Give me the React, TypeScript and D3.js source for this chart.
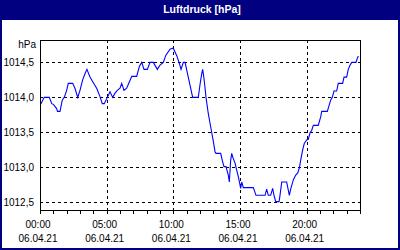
import React from "react";
import * as d3 from "d3";

const title = "Luftdruck [hPa]";
const unitLabel = "hPa";
const dateLabel = "06.04.21";

// time in hours since 00:00, pressure in hPa
const hours = [
  0.05, 0.32, 0.7, 0.88, 1.0, 1.25, 1.31, 1.5, 1.67, 1.82, 2.0, 2.12, 2.45, 2.62, 2.83, 3.0, 3.2, 3.38, 3.52, 3.75,
  4.0, 4.25, 4.5, 4.67, 4.82, 5.05, 5.25, 5.45, 5.63, 5.8, 6.0, 6.13, 6.3, 6.5, 6.7, 6.88, 7.25, 7.45, 7.63, 7.8,
  8.05, 8.25, 8.5, 8.8, 9.0, 9.25, 9.43, 9.75, 9.92, 10.0, 10.25, 10.43, 10.58, 10.75, 10.88, 11.12, 11.45, 11.87, 12.0, 12.13,
  12.2, 12.3, 12.38, 12.45, 12.62, 12.8, 13.0, 13.13, 13.2, 13.55, 13.67, 13.8, 13.95, 14.05, 14.12, 14.2, 14.3, 14.38, 14.45, 14.63,
  14.75, 14.87, 15.0, 15.05, 15.13, 15.25, 16.0, 16.2, 16.88, 17.0, 17.12, 17.3, 17.45, 17.55, 17.68, 17.93, 18.0, 18.13, 18.5, 18.7,
  18.8, 19.0, 19.18, 19.33, 19.45, 19.55, 19.7, 19.82, 20.0, 20.12, 20.25, 20.38, 20.5, 20.87, 21.05, 21.13, 21.55, 21.8, 21.92, 22.05,
  22.25, 22.37, 22.7, 22.8, 23.0, 23.12, 23.25, 23.38, 23.7, 23.8, 23.88,
];
const pressure = [
  1013.9, 1014.0, 1014.0, 1013.91, 1013.9, 1013.84, 1013.8, 1013.8, 1013.96, 1014.0, 1014.1, 1014.2, 1014.2, 1014.13, 1014.0, 1014.1, 1014.25, 1014.34, 1014.4, 1014.29,
  1014.21, 1014.13, 1014.01, 1013.91, 1013.91, 1014.0, 1014.08, 1014.0, 1014.06, 1014.1, 1014.13, 1014.2, 1014.1, 1014.13, 1014.22, 1014.3, 1014.3, 1014.44, 1014.5, 1014.4,
  1014.4, 1014.5, 1014.5, 1014.4, 1014.46, 1014.5, 1014.6, 1014.69, 1014.7, 1014.7, 1014.6, 1014.5, 1014.4, 1014.5, 1014.5, 1014.29, 1014.0, 1014.0, 1014.18, 1014.34,
  1014.4, 1014.27, 1014.13, 1014.0, 1013.77, 1013.58, 1013.37, 1013.22, 1013.2, 1013.2, 1013.1, 1013.01, 1013.01, 1012.94, 1012.89, 1012.79, 1013.1, 1013.2, 1013.15, 1013.06,
  1012.96, 1012.87, 1012.75, 1012.7, 1012.79, 1012.71, 1012.71, 1012.6, 1012.6, 1012.69, 1012.6, 1012.6, 1012.7, 1012.6, 1012.51, 1012.51, 1012.6, 1012.79, 1012.79, 1012.6,
  1012.69, 1012.82, 1012.89, 1012.92, 1012.99, 1013.1, 1013.25, 1013.34, 1013.39, 1013.4, 1013.49, 1013.53, 1013.6, 1013.6, 1013.72, 1013.8, 1013.8, 1013.96, 1014.0, 1014.09,
  1014.09, 1014.2, 1014.2, 1014.29, 1014.29, 1014.4, 1014.46, 1014.5, 1014.5, 1014.56, 1014.59,
];

const yTicks = [1012.5, 1013.0, 1013.5, 1014.0, 1014.5];
const xTickHours = [0, 5, 10, 15, 20];
const xTickLabels = ["00:00", "05:00", "10:00", "15:00", "20:00"];
const gridHours = [5, 10, 15, 20];
const minorHours = d3.range(0, 25);

const W = 400;
const H = 250;
const plot = { left: 40, top: 40, right: 360, bottom: 210 };

export default function App() {
  const x = d3.scaleLinear().domain([0, 24]).range([plot.left, plot.right]);
  const y = d3.scaleLinear().domain([1012.39, 1014.82]).range([plot.bottom, plot.top]);
  const data = hours.map((h, i) => [h, pressure[i]] as [number, number]);
  const line = d3
    .line<[number, number]>()
    .x((d) => x(d[0]))
    .y((d) => y(d[1]));
  const fmt = (v: number) => v.toFixed(1).replace(".", ",");
  const font = "'Liberation Sans', Arial, sans-serif";

  return (
    <svg
      width={W}
      height={H}
      viewBox={`0 0 ${W} ${H}`}
      style={{ position: "absolute", left: 0, top: 0, display: "block" }}
    >
      <rect x={0} y={0} width={W} height={H} fill="#ffffff" />
      <rect x={0} y={0} width={W} height={20} fill="#000080" />
      <rect x={1} y={1} width={W - 2} height={H - 2} fill="none" stroke="#000080" strokeWidth={2} />
      <text
        x={202}
        y={13}
        textAnchor="middle"
        fill="#ffffff"
        fontFamily={font}
        fontWeight="bold"
        fontSize={10.5}
      >
        {title}
      </text>

      {/* grid */}
      {yTicks.map((v) => (
        <line
          key={"gy" + v}
          x1={plot.left}
          x2={plot.right}
          y1={Math.round(y(v)) + 0.5}
          y2={Math.round(y(v)) + 0.5}
          stroke="#000"
          strokeWidth={1}
          strokeDasharray="3,3"
        />
      ))}
      {gridHours.map((h) => (
        <line
          key={"gx" + h}
          x1={Math.round(x(h)) + 0.5}
          x2={Math.round(x(h)) + 0.5}
          y1={plot.top}
          y2={plot.bottom}
          stroke="#000"
          strokeWidth={1}
          strokeDasharray="3,3"
        />
      ))}

      {/* data */}
      <path d={line(data) || ""} fill="none" stroke="#0000ff" strokeWidth={1.1} />

      {/* frame */}
      <rect
        x={plot.left + 0.5}
        y={plot.top + 0.5}
        width={plot.right - plot.left}
        height={plot.bottom - plot.top}
        fill="none"
        stroke="#000"
        strokeWidth={1}
      />
      {minorHours.map((h) => (
        <line
          key={"t" + h}
          x1={Math.round(x(h)) + 0.5}
          x2={Math.round(x(h)) + 0.5}
          y1={plot.bottom}
          y2={plot.bottom + 4}
          stroke="#000"
          strokeWidth={1}
        />
      ))}

      {/* y labels */}
      <text x={36} y={48} textAnchor="end" fontFamily={font} fontSize={10} fill="#000">
        {unitLabel}
      </text>
      {yTicks.map((v) => (
        <text
          key={"yl" + v}
          x={34}
          y={y(v) + 3.5}
          textAnchor="end"
          fontFamily={font}
          fontSize={10}
          fill="#000"
        >
          {fmt(v)}
        </text>
      ))}

      {/* x labels */}
      {xTickHours.map((h, i) => (
        <g key={"xl" + h}>
          <text x={x(h) - 2} y={228} textAnchor="middle" fontFamily={font} fontSize={10} fill="#000">
            {xTickLabels[i]}
          </text>
          <text x={x(h) - 2} y={242} textAnchor="middle" fontFamily={font} fontSize={10} fill="#000">
            {dateLabel}
          </text>
        </g>
      ))}
    </svg>
  );
}
